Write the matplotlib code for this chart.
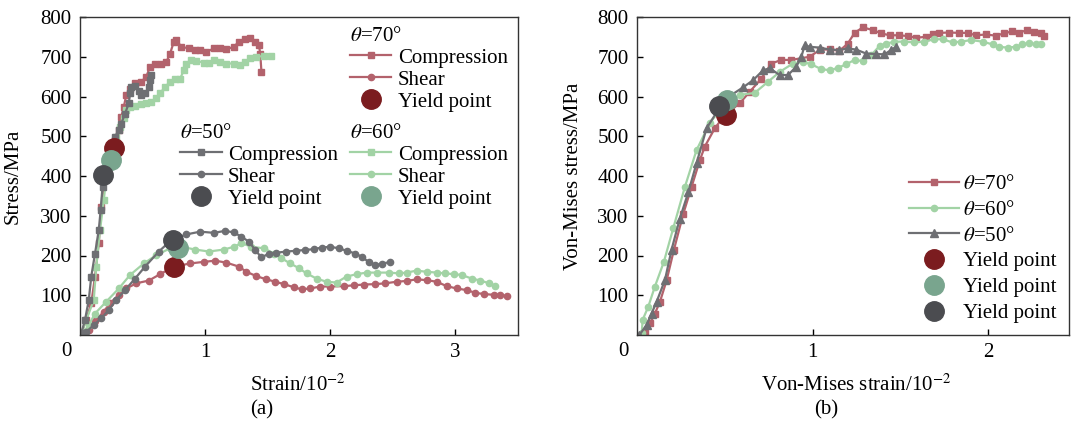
import matplotlib
matplotlib.use('Agg')
import matplotlib.pyplot as plt

plt.rcParams['font.family'] = ['serif']
plt.rcParams['font.serif'] = ['Liberation Serif', 'DejaVu Serif']
plt.rcParams['mathtext.fontset'] = 'stix'
plt.rcParams['font.size'] = 15
plt.rcParams['xtick.direction'] = 'in'
plt.rcParams['ytick.direction'] = 'in'

# colours
C_RED, C_GREEN, C_GRAY = '#b3626c', '#a2d3a5', '#6e6f73'
Y_RED, Y_GREEN, Y_GRAY = '#7b1c1f', '#79a58e', '#4b4c50'

# ---------------- (a) stress-strain ----------------
# theta = 70
c70_x = [0.01, 0.05, 0.09, 0.12, 0.15, 0.17, 0.20, 0.23, 0.25, 0.28, 0.31, 0.33, 0.35, 0.37, 0.40, 0.44,
         0.49, 0.53, 0.56, 0.60, 0.65, 0.69, 0.72, 0.75, 0.77, 0.81, 0.87, 0.92, 0.96, 1.01, 1.07, 1.12,
         1.17, 1.23, 1.27, 1.32, 1.36, 1.40, 1.43, 1.44, 1.45]
c70_y = [4, 38, 80, 147, 231, 323, 398, 448, 474, 490, 516, 549, 574, 604, 620, 633,
         637, 650, 675, 683, 683, 687, 708, 738, 742, 725, 721, 718, 717, 712, 721, 721,
         719, 725, 738, 744, 746, 738, 729, 708, 662]
s70_x = [0.03, 0.07, 0.12, 0.19, 0.24, 0.31, 0.37, 0.45, 0.55, 0.64, 0.75, 0.88, 0.99, 1.08, 1.17, 1.27,
         1.33, 1.41, 1.49, 1.56, 1.63, 1.71, 1.77, 1.84, 1.92, 2.00, 2.11, 2.19, 2.27, 2.36, 2.44, 2.53,
         2.61, 2.69, 2.77, 2.85, 2.93, 3.01, 3.09, 3.16, 3.23, 3.31, 3.36, 3.41]
s70_y = [2, 13, 34, 59, 80, 101, 117, 130, 137, 153, 172, 180, 184, 187, 182, 172,
         159, 148, 140, 134, 128, 120, 115, 117, 122, 122, 123, 125, 127, 128, 130, 134,
         136, 140, 138, 134, 123, 117, 113, 106, 103, 101, 101, 98]
# theta = 60
c60_x = [0.01, 0.11, 0.13, 0.16, 0.19, 0.21, 0.24, 0.27, 0.29, 0.32, 0.35, 0.37, 0.40, 0.44, 0.49, 0.53,
         0.57, 0.61, 0.64, 0.68, 0.72, 0.76, 0.80, 0.83, 0.85, 0.89, 0.93, 0.99, 1.03, 1.07, 1.12, 1.17,
         1.23, 1.28, 1.32, 1.36, 1.41, 1.47, 1.53]
c60_y = [4, 88, 172, 264, 339, 398, 440, 474, 499, 524, 545, 566, 574, 576, 581, 583,
         587, 595, 608, 624, 637, 643, 645, 666, 683, 693, 690, 685, 685, 692, 687, 683,
         683, 679, 687, 696, 700, 702, 702]
s60_x = [0.03, 0.07, 0.12, 0.21, 0.31, 0.40, 0.51, 0.61, 0.72, 0.81, 0.92, 1.03, 1.15, 1.23, 1.29, 1.37,
         1.47, 1.55, 1.61, 1.68, 1.75, 1.81, 1.89, 1.97, 2.05, 2.13, 2.21, 2.29, 2.37, 2.47, 2.55, 2.61,
         2.69, 2.77, 2.85, 2.92, 2.99, 3.05, 3.13, 3.20, 3.27, 3.32]
s60_y = [8, 25, 54, 84, 117, 151, 180, 201, 218, 222, 215, 210, 215, 222, 231, 222,
         218, 205, 193, 180, 168, 155, 142, 134, 132, 147, 153, 157, 157, 157, 155, 157,
         162, 159, 157, 155, 153, 151, 142, 137, 130, 123]
# theta = 50
c50_x = [0.01, 0.04, 0.07, 0.09, 0.12, 0.15, 0.165, 0.18, 0.20, 0.23, 0.25, 0.28, 0.31, 0.33, 0.36, 0.39,
         0.40, 0.41, 0.44, 0.47, 0.49, 0.52, 0.55, 0.56, 0.565]
c50_y = [4, 38, 88, 147, 205, 264, 314, 373, 415, 448, 474, 499, 516, 532, 557, 583,
         608, 625, 626, 614, 604, 608, 623, 641, 654]
s50_x = [0.01, 0.05, 0.11, 0.17, 0.23, 0.29, 0.36, 0.44, 0.52, 0.63, 0.73, 0.85, 0.96, 1.07, 1.16, 1.23,
         1.29, 1.35, 1.40, 1.45, 1.51, 1.57, 1.65, 1.73, 1.80, 1.87, 1.93, 2.00, 2.07, 2.13, 2.20, 2.25,
         2.31, 2.36, 2.41, 2.48]
s50_y = [0, 8, 25, 42, 63, 88, 113, 142, 172, 210, 239, 253, 260, 257, 262, 258,
         247, 235, 214, 195, 205, 207, 210, 212, 214, 216, 220, 222, 218, 212, 205, 197,
         183, 176, 179, 184]
# yield points: compression, shear
yld70_x, yld70_y = [0.27, 0.755], [471, 172]
yld60_x, yld60_y = [0.245, 0.787], [440, 218]
yld50_x, yld50_y = [0.184, 0.74], [402, 239]

# ---------------- (b) Von-Mises ----------------
vm70_x = [0.045, 0.074, 0.102, 0.131, 0.169, 0.21, 0.263, 0.311, 0.358, 0.386, 0.443, 0.50, 0.585, 0.642,
          0.708, 0.765, 0.822, 0.879, 0.983, 1.04, 1.097, 1.153, 1.20, 1.239, 1.286, 1.343, 1.39, 1.438,
          1.494, 1.542, 1.589, 1.646, 1.684, 1.722, 1.778, 1.835, 1.883, 1.93, 1.987, 2.044, 2.091, 2.138,
          2.176, 2.223, 2.261, 2.299, 2.318]
vm70_y = [4, 29, 54, 84, 138, 214, 304, 373, 440, 474, 520, 553, 583, 612,
          645, 683, 692, 692, 700, 717, 719, 715, 733, 760, 774, 767, 759, 754,
          754, 752, 748, 750, 756, 760, 761, 760, 760, 754, 756, 753, 759, 764,
          761, 767, 763, 759, 752]
vm60_x = [0.027, 0.032, 0.064, 0.102, 0.153, 0.206, 0.273, 0.339, 0.415, 0.481, 0.585, 0.67, 0.746, 0.813,
          0.888, 0.945, 0.992, 1.049, 1.097, 1.144, 1.191, 1.239, 1.286, 1.333, 1.381, 1.419, 1.466, 1.523,
          1.58, 1.636, 1.693, 1.741, 1.797, 1.845, 1.902, 1.968, 2.025, 2.062, 2.11, 2.157, 2.195, 2.233,
          2.271, 2.30]
vm60_y = [4, 38, 71, 122, 184, 268, 373, 465, 534, 570, 604, 609, 637, 662,
          683, 687, 681, 669, 666, 672, 681, 692, 689, 704, 727, 733, 738, 738,
          736, 738, 744, 744, 736, 738, 742, 738, 731, 725, 723, 725, 731, 735,
          731, 731]
vm50_x = [0.013, 0.055, 0.083, 0.112, 0.159, 0.197, 0.244, 0.292, 0.339, 0.396, 0.462, 0.538, 0.604, 0.661,
          0.718, 0.756, 0.812, 0.86, 0.907, 0.936, 0.955, 0.983, 1.04, 1.097, 1.153, 1.20, 1.248, 1.305,
          1.362, 1.409, 1.447, 1.475]
vm50_y = [0, 25, 54, 84, 138, 215, 293, 359, 432, 520, 566, 604, 623, 641,
          666, 671, 654, 654, 675, 700, 729, 725, 723, 718, 717, 721, 718, 708,
          707, 706, 717, 725]
vmy_x = [0.506, 0.513, 0.468]
vmy_y = [553, 591, 576]

fig = plt.figure(figsize=(10.71, 4.28), dpi=100)
ax1 = fig.add_axes([80 / 1071, 1 - 335 / 428, 438 / 1071, 318 / 428])
ax2 = fig.add_axes([637 / 1071, 1 - 335 / 428, 432 / 1071, 318 / 428])

lw, ms, yms = 1.6, 4.5, 14

# panel (a)
groups = [
    (c70_x, c70_y, s70_x, s70_y, yld70_x, yld70_y, C_RED, Y_RED),
    (c60_x, c60_y, s60_x, s60_y, yld60_x, yld60_y, C_GREEN, Y_GREEN),
    (c50_x, c50_y, s50_x, s50_y, yld50_x, yld50_y, C_GRAY, Y_GRAY),
]
handles = []
for cx, cy, sx, sy, yx, yy, c, yc in groups:
    h1, = ax1.plot(cx, cy, '-s', color=c, lw=lw, ms=ms, label='Compression')
    h2, = ax1.plot(sx, sy, '-o', color=c, lw=lw, ms=ms, label='Shear')
    h3, = ax1.plot(yx, yy, 'o', color=yc, ms=yms, ls='none', label='Yield point', zorder=5)
    handles.append([h1, h2, h3])

leg_kw = dict(frameon=False, loc='upper left', borderpad=0, borderaxespad=0,
              labelspacing=0.12, handlelength=2.0, handletextpad=0.3,
              numpoints=1, alignment='left', fontsize=15, title_fontsize=15)
titles = [r'$\theta$=70°', r'$\theta$=60°', r'$\theta$=50°']
anchors = [(0.616, 0.97), (0.616, 0.665), (0.228, 0.665)]
legs = []
for hs, t, a in zip(handles, titles, anchors):
    legs.append(ax1.legend(handles=hs, title=t, bbox_to_anchor=a, **leg_kw))
for lg in legs[:-1]:
    ax1.add_artist(lg)

ax1.set_xlim(0, 3.5)
ax1.set_ylim(0, 800)
ax1.set_xticks([1, 2, 3])
ax1.set_yticks([100, 200, 300, 400, 500, 600, 700, 800])
ax1.set_xlabel('Strain/10$^{-2}$')
ax1.set_ylabel('Stress/MPa')
ax1.xaxis.set_label_coords(0.498, -0.125)
ax1.yaxis.set_label_coords(-0.130, 0.5)

# panel (b)
hb1, = ax2.plot(vm70_x, vm70_y, '-s', color=C_RED, lw=lw, ms=ms, label=r'$\theta$=70°')
hb2, = ax2.plot(vm60_x, vm60_y, '-o', color=C_GREEN, lw=lw, ms=ms, label=r'$\theta$=60°')
hb3, = ax2.plot(vm50_x, vm50_y, '-^', color=C_GRAY, lw=lw, ms=ms + 1, label=r'$\theta$=50°')
hy = []
for x, y, c in zip(vmy_x, vmy_y, [Y_RED, Y_GREEN, Y_GRAY]):
    h, = ax2.plot([x], [y], 'o', color=c, ms=yms, ls='none', label='Yield point', zorder=5)
    hy.append(h)
ax2.legend(handles=[hb1, hb2, hb3] + hy, frameon=False, loc='upper left',
           bbox_to_anchor=(0.630, 0.505), borderpad=0, borderaxespad=0,
           labelspacing=0.3, handlelength=2.4, handletextpad=0.2, numpoints=1, fontsize=15)

ax2.set_xlim(0, 2.46)
ax2.set_ylim(0, 800)
ax2.set_xticks([1, 2])
ax2.set_yticks([100, 200, 300, 400, 500, 600, 700, 800])
ax2.set_xlabel('Von-Mises strain/10$^{-2}$')
ax2.set_ylabel('Von-Mises stress/MPa')
ax2.xaxis.set_label_coords(0.508, -0.125)
ax2.yaxis.set_label_coords(-0.125, 0.5)

for ax in (ax1, ax2):
    for sp in ax.spines.values():
        sp.set_linewidth(1.0)
        sp.set_color('#333333')
    ax.tick_params(length=4, width=1.0, pad=6, labelsize=15)
    ax.annotate('0', xy=(0, 0), xycoords='axes fraction', xytext=(-14, -16),
                textcoords='offset pixels', ha='center', va='center', fontsize=15)

fig.text(262 / 1071, 1 - 410 / 428, '(a)', ha='center', va='center', fontsize=15)
fig.text(826 / 1071, 1 - 410 / 428, '(b)', ha='center', va='center', fontsize=15)

fig.savefig('out.png', dpi=100)
